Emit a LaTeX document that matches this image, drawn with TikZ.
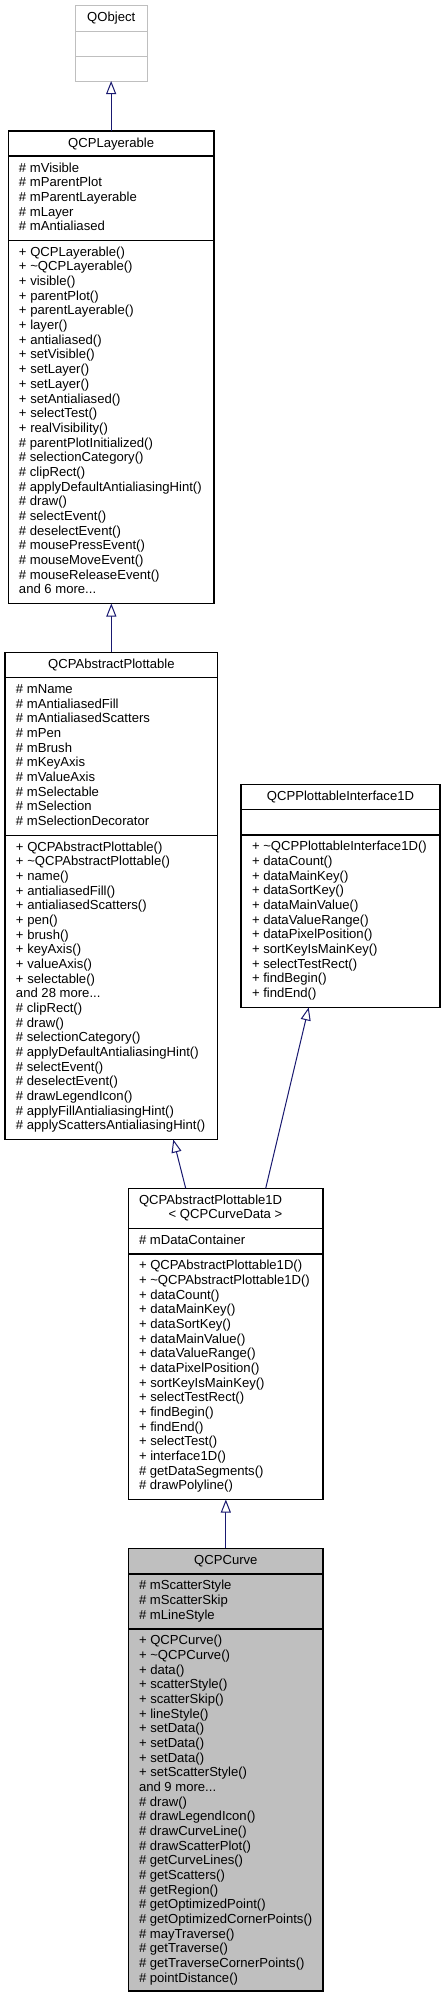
\documentclass[tikz,border=0pt]{standalone}
\usepackage{fontspec}
\setmainfont{Liberation Sans}
\usetikzlibrary{calc,arrows.meta}
\definecolor{navy}{RGB}{25,25,112}
\definecolor{lgrey}{RGB}{191,191,191}
\definecolor{curvefill}{RGB}{191,191,191}
\newcommand\dfont{\fontsize{13.1}{14.67}\selectfont}
\newcommand\mdots{...}
\newcommand\mlines[4]{%
  \foreach \t [count=\i from 0] in {#4}
    \node[txt, name=#1-\i] at (#2, #3+\i*14.67) {\t};}
\tikzset{
  cbox/.style={draw=black, line width=1.1pt, fill=white, inner sep=0pt, outer sep=0pt, anchor=north west},
  sepline/.style={draw=black, line width=1.1pt},
  txt/.style={anchor=base west, inner sep=0pt, outer sep=0pt, font=\dfont},
  ttl/.style={anchor=base, inner sep=0pt, outer sep=0pt, font=\dfont},
  inh/.style={draw=navy, line width=1pt, -{Triangle[open, length=13pt, width=10pt, fill=white]}}
}
\begin{document}
\begin{tikzpicture}[x=1pt,y=-1pt]
\useasboundingbox[fill=white] (0,0) rectangle (445,1997);

% QObject
\node[cbox, draw=lgrey, line width=1pt, minimum width=71.5pt, minimum height=75.5pt] (qobject) at (75.5,5.5) {};
\draw[draw=lgrey, line width=1pt] ($(qobject.north west)+(0,26)$) -- ($(qobject.north east)+(0,26)$);
\draw[draw=lgrey, line width=1pt] ($(qobject.north west)+(0,51)$) -- ($(qobject.north east)+(0,51)$);
\node[ttl] (qobject-t) at (111.25,21.5) {QObject};

% QCPLayerable
\node[cbox, minimum width=205.7pt, minimum height=472.5pt] (lay) at (8.3,131) {};
\draw[sepline] ($(lay.north west)+(0,25)$) -- ($(lay.north east)+(0,25)$);
\draw[sepline] ($(lay.north west)+(0,109.7)$) -- ($(lay.north east)+(0,109.7)$);
\node[ttl] (lay-t) at (111.15,147.3) {QCPLayerable};
\mlines{laya}{19}{172}{\# mVisible, \# mParentPlot, \# mParentLayerable, \# mLayer, \# mAntialiased}
\mlines{laym}{19}{256.3}{+ QCPLayerable(), + \textasciitilde QCPLayerable(), + visible(), + parentPlot(), + parentLayerable(), + layer(), + antialiased(), + setVisible(), + setLayer(), + setLayer(), + setAntialiased(), + selectTest(), + realVisibility(), \# parentPlotInitialized(), \# selectionCategory(), \# clipRect(), \# applyDefaultAntialiasingHint(), \# draw(), \# selectEvent(), \# deselectEvent(), \# mousePressEvent(), \# mouseMoveEvent(), \# mouseReleaseEvent(), and 6 more\mdots}

% QCPAbstractPlottable
\node[cbox, minimum width=212.7pt, minimum height=487.2pt] (plot) at (5,652.3) {};
\draw[sepline] ($(plot.north west)+(0,25.4)$) -- ($(plot.north east)+(0,25.4)$);
\draw[sepline] ($(plot.north west)+(0,183.1)$) -- ($(plot.north east)+(0,183.1)$);
\node[ttl] (plot-t) at (111.35,668.6) {QCPAbstractPlottable};
\mlines{plota}{16}{693.4}{\# mName, \# mAntialiasedFill, \# mAntialiasedScatters, \# mPen, \# mBrush, \# mKeyAxis, \# mValueAxis, \# mSelectable, \# mSelection, \# mSelectionDecorator}
\mlines{plotm}{16}{851.1}{+ QCPAbstractPlottable(), + \textasciitilde QCPAbstractPlottable(), + name(), + antialiasedFill(), + antialiasedScatters(), + pen(), + brush(), + keyAxis(), + valueAxis(), + selectable(), and 28 more\mdots, \# clipRect(), \# draw(), \# selectionCategory(), \# applyDefaultAntialiasingHint(), \# selectEvent(), \# deselectEvent(), \# drawLegendIcon(), \# applyFillAntialiasingHint(), \# applyScattersAntialiasingHint()}

% QCPPlottableInterface1D
\node[cbox, minimum width=199pt, minimum height=223.1pt] (iface) at (241,784.3) {};
\draw[sepline] ($(iface.north west)+(0,25)$) -- ($(iface.north east)+(0,25)$);
\draw[sepline] ($(iface.north west)+(0,50.7)$) -- ($(iface.north east)+(0,50.7)$);
\node[ttl] (iface-t) at (340.5,800.6) {QCPPlottableInterface1D};
\mlines{ifacem}{252}{850.7}{+ \textasciitilde QCPPlottableInterface1D(), + dataCount(), + dataMainKey(), + dataSortKey(), + dataMainValue(), + dataValueRange(), + dataPixelPosition(), + sortKeyIsMainKey(), + selectTestRect(), + findBegin(), + findEnd()}

% QCPAbstractPlottable1D
\node[cbox, minimum width=194.3pt, minimum height=311.2pt] (apd) at (128.7,1188.3) {};
\draw[sepline] ($(apd.north west)+(0,40)$) -- ($(apd.north east)+(0,40)$);
\draw[sepline] ($(apd.north west)+(0,65.7)$) -- ($(apd.north east)+(0,65.7)$);
\node[txt] (apd-t1) at (139,1204.3) {QCPAbstractPlottable1D};
\node[txt, anchor=base east] (apd-t2) at (282.3,1218.9) {< QCPCurveData >};
\mlines{apda}{139}{1244.3}{\# mDataContainer}
\mlines{apdm}{139}{1269.7}{+ QCPAbstractPlottable1D(), + \textasciitilde QCPAbstractPlottable1D(), + dataCount(), + dataMainKey(), + dataSortKey(), + dataMainValue(), + dataValueRange(), + dataPixelPosition(), + sortKeyIsMainKey(), + selectTestRect(), + findBegin(), + findEnd(), + selectTest(), + interface1D(), \# getDataSegments(), \# drawPolyline()}

% QCPCurve
\node[cbox, fill=curvefill, minimum width=194.3pt, minimum height=442.7pt] (curve) at (128.7,1548.3) {};
\draw[sepline] ($(curve.north west)+(0,25.7)$) -- ($(curve.north east)+(0,25.7)$);
\draw[sepline] ($(curve.north west)+(0,80.7)$) -- ($(curve.north east)+(0,80.7)$);
\node[ttl] (curve-t) at (225.85,1564.3) {QCPCurve};
\mlines{curvea}{139}{1589.7}{\# mScatterStyle, \# mScatterSkip, \# mLineStyle}
\mlines{curvem}{139}{1644.7}{+ QCPCurve(), + \textasciitilde QCPCurve(), + data(), + scatterStyle(), + scatterSkip(), + lineStyle(), + setData(), + setData(), + setData(), + setScatterStyle(), and 9 more\mdots, \# draw(), \# drawLegendIcon(), \# drawCurveLine(), \# drawScatterPlot(), \# getCurveLines(), \# getScatters(), \# getRegion(), \# getOptimizedPoint(), \# getOptimizedCornerPoints(), \# mayTraverse(), \# getTraverse(), \# getTraverseCornerPoints(), \# pointDistance()}

% inheritance connectors
\draw[inh] (lay.north) -- (lay.north |- qobject.south);
\draw[inh] (plot.north) -- (plot.north |- lay.south);
\draw[inh] ($(apd.north west)+(57,0)$) -- ($(plot.south west)+(168.3,0)$);
\draw[inh] ($(apd.north west)+(137,0)$) -- ($(iface.south west)+(67.7,0)$);
\draw[inh] (curve.north) -- (curve.north |- apd.south);
\end{tikzpicture}
\end{document}
